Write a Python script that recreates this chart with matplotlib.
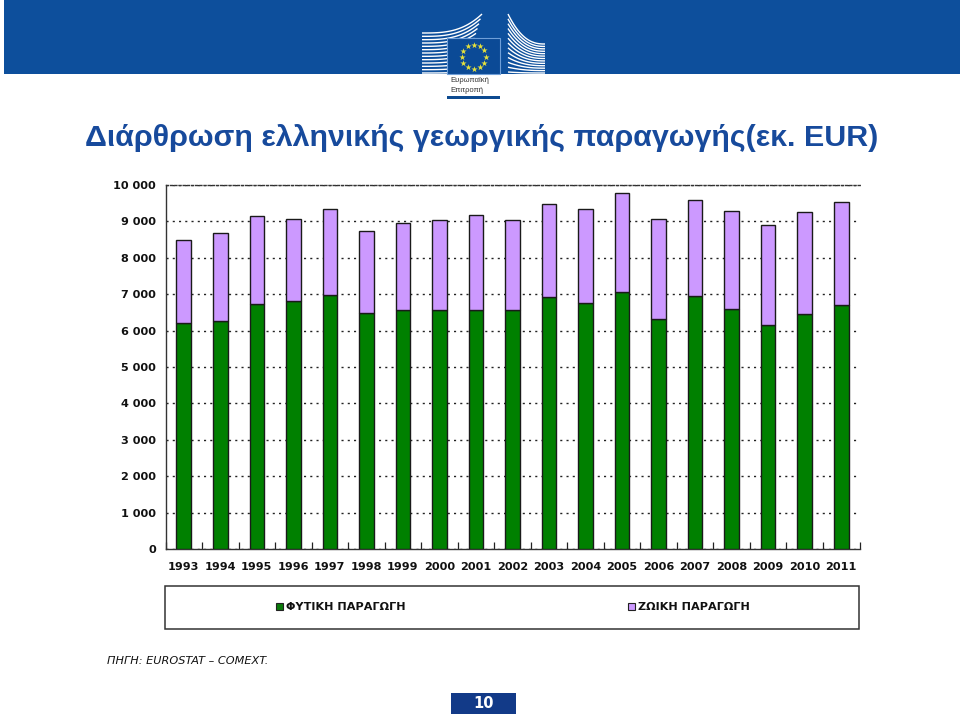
import numpy as np
import matplotlib
matplotlib.use('Agg')
import matplotlib.pyplot as plt
from matplotlib.patches import Rectangle

plt.rcParams['font.family'] = ['DejaVu Sans']

years = ['1993', '1994', '1995', '1996', '1997', '1998', '1999', '2000', '2001', '2002',
         '2003', '2004', '2005', '2006', '2007', '2008', '2009', '2010', '2011']
# crop and animal output
crop = [6210, 6264, 6730, 6813, 6985, 6484, 6560, 6560, 6560, 6560,
        6923, 6758, 7060, 6319, 6950, 6593, 6154, 6456, 6703]
animal = [2290, 2416, 2418, 2253, 2355, 2252, 2396, 2478, 2616, 2478,
          2545, 2582, 2720, 2747, 2638, 2693, 2747, 2802, 2830]
yticks = [0, 1000, 2000, 3000, 4000, 5000, 6000, 7000, 8000, 9000, 10000]
crop_label = 'ΦΥΤΙΚΗ ΠΑΡΑΓΩΓΗ'
animal_label = 'ΖΩΙΚΗ ΠΑΡΑΓΩΓΗ'

W = 960
H = 716
fig = plt.figure(figsize=(W / 100, H / 100), dpi=100)

# background layer in pixel coords
bg = fig.add_axes([0, 0, 1, 1])
bg.set_xlim(0, W)
bg.set_ylim(H, 0)
bg.axis('off')

bg.add_patch(Rectangle((4, 0), W - 4, 74, color='#0d4f9c', lw=0))

# logo building, left and right wings
for i in range(13):
    t = i / 12
    xs = np.linspace(422, 482 - 18 * t, 30)
    y_end = 14 + 58 * t
    y_start = 33 + 40 * t
    u = (xs - xs[0]) / (xs[-1] - xs[0])
    ys = y_start + (y_end - y_start) * u ** 3
    bg.plot(xs, ys, color='white', lw=1.0, solid_capstyle='butt')
for i in range(13):
    t = i / 12
    xs = np.linspace(508, 545, 30)
    y_left = 14 + 58 * t
    y_right = 44 + 29 * t
    u = (xs - xs[0]) / (xs[-1] - xs[0])
    ys = y_left + (y_right - y_left) * (1 - (1 - u) ** 2.5)
    bg.plot(xs, ys, color='white', lw=1.0, solid_capstyle='butt')

bg.add_patch(Rectangle((447, 38), 53, 36, facecolor='#0b4a96', edgecolor='#6f9fd8', lw=0.8, zorder=3))
ang = np.linspace(0, 2 * np.pi, 12, endpoint=False)
bg.scatter(473.5 + 12 * np.cos(ang), 56.5 + 12 * np.sin(ang), marker='*', s=22,
           color='#e8e23a', lw=0, zorder=4)
bg.text(450, 81, 'Ευρωπαϊκή', fontsize=5.5, color='#333333', family='Liberation Sans', va='center')
bg.text(450, 91, 'Επιτροπή', fontsize=5.5, color='#333333', family='Liberation Sans', va='center')
bg.add_patch(Rectangle((447, 96), 53, 3, color='#0d4a90', lw=0))

bg.text(85, 138, 'Διάρθρωση ελληνικής γεωργικής παραγωγής(εκ. EUR)', fontsize=21.9,
        fontweight='bold', color='#174a9c', family='Liberation Sans', va='center')

# legend box and footer
bg.add_patch(Rectangle((165, 586), 694, 43, facecolor='white', edgecolor='#333333', lw=1.1))
bg.add_patch(Rectangle((276, 603), 7, 7, facecolor='#0a7a0a', edgecolor='#222222', lw=0.8))
bg.text(286, 607, crop_label, fontsize=8.1, fontweight='bold', color='#111111', va='center')
bg.add_patch(Rectangle((628, 603), 7, 7, facecolor='#cc99ff', edgecolor='#222222', lw=0.8))
bg.text(638, 607, animal_label, fontsize=8.1, fontweight='bold', color='#111111', va='center')
bg.text(107, 661, 'ΠΗΓΗ: EUROSTAT – COMEXT.', fontsize=8.1, style='italic', color='#111111', va='center')
bg.add_patch(Rectangle((451, 693), 65, 21, color='#123a88', lw=0))
bg.text(483.5, 704, '10', fontsize=10.5, fontweight='bold', color='white', ha='center', va='center')

# chart
ax = fig.add_axes([165.5 / W, 1 - 549 / H, 694 / W, 364 / H], facecolor='none')
x = np.arange(len(years))
ax.bar(x, crop, width=0.4, color='#008000', edgecolor='#1a1a1a', linewidth=1, zorder=3)
ax.bar(x, animal, width=0.4, bottom=crop, color='#cc99ff', edgecolor='#1a1a1a', linewidth=1, zorder=3)

ax.set_xlim(-0.5, len(years) - 0.5)
ax.set_ylim(0, 10000)
ax.set_yticks(yticks)
ax.set_yticklabels([f'{v:,}'.replace(',', ' ') for v in yticks], fontsize=8.1, fontweight='bold', color='#111111')
ax.set_xticks(x)
ax.set_xticklabels(years, fontsize=8.1, fontweight='bold', color='#111111')
ax.set_xticks(np.arange(len(years) + 1) - 0.5, minor=True)
ax.tick_params(axis='x', which='major', length=0, pad=9)
ax.tick_params(axis='x', which='minor', direction='in', length=5, width=0.9, color='#222222')
ax.tick_params(axis='y', length=0, pad=7)
ax.grid(axis='y', color='#222222', linestyle=(0, (1.5, 3)), linewidth=1, zorder=1)
for s in ax.spines.values():
    s.set_color('#333333')
    s.set_linewidth(1)
ax.spines['top'].set_linestyle((0, (1.5, 1.5)))
ax.spines['right'].set_visible(False)

fig.savefig('out.png', dpi=100)
